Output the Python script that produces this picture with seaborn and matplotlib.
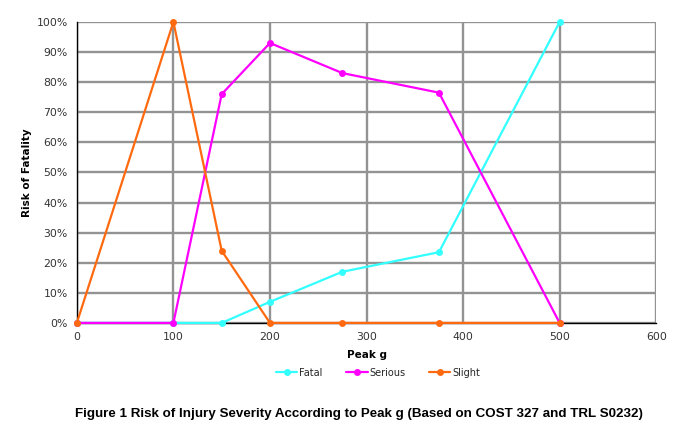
import pandas as pd
import matplotlib.pyplot as plt
import seaborn as sns
from matplotlib.ticker import PercentFormatter

peak_g = [0, 100, 150, 200, 275, 375, 500]
fatal = [0, 0, 0, 7, 17, 23.5, 100]
serious = [0, 0, 76, 93, 83, 76.5, 0]
slight = [0, 100, 24, 0, 0, 0, 0]

series = ["Fatal", "Serious", "Slight"]
colors = {"Fatal": "#33ffff", "Serious": "#ff00ff", "Slight": "#ff6a10"}

df = pd.DataFrame({
    "Peak g": peak_g * 3,
    "Risk": fatal + serious + slight,
    "Series": ["Fatal"] * 7 + ["Serious"] * 7 + ["Slight"] * 7,
})

sns.set_style("white")
plt.rcParams['font.family'] = ['DejaVu Sans']

fig = plt.figure(figsize=(6.8, 4.3), dpi=100)
ax = fig.add_axes([0.113, 0.249, 0.852, 0.700])

sns.lineplot(data=df, x="Peak g", y="Risk", hue="Series", hue_order=series,
             palette=colors, marker="o", markersize=5, markeredgewidth=0,
             linewidth=1.6, ax=ax, clip_on=False, zorder=3)

ax.set_xlim(0, 600)
ax.set_ylim(0, 100)
ax.set_xticks(range(0, 601, 100))
ax.set_yticks(range(0, 101, 10))
ax.yaxis.set_major_formatter(PercentFormatter(decimals=0))
ax.grid(True, color="#939393", linewidth=1.7)
ax.set_axisbelow(True)
for s in ["top", "right"]:
    ax.spines[s].set_visible(False)
for s in ["left", "bottom"]:
    ax.spines[s].set_color("black")
    ax.spines[s].set_linewidth(1.0)
ax.tick_params(axis="both", labelsize=7.8, colors="#333333", length=3, width=0.8)
ax.tick_params(axis="both", color="black")

ax.set_xlabel("Peak g", fontsize=7.5, fontweight="bold", labelpad=6, color="black")
ax.set_ylabel("Risk of Fatality", fontsize=7.5, fontweight="bold", labelpad=3, color="black")

ax.legend(loc="upper center", bbox_to_anchor=(0.52, -0.12), ncol=3, frameon=False,
          fontsize=7, handlelength=2.2, columnspacing=2.4, handletextpad=0.2)

fig.text(0.528, 0.03, "Figure 1 Risk of Injury Severity According to Peak g (Based on COST 327 and TRL S0232)",
         ha="center", fontsize=9.6, fontweight="bold", color="black",
         family=["Liberation Sans", "DejaVu Sans"])

fig.savefig("out.png", dpi=100)
